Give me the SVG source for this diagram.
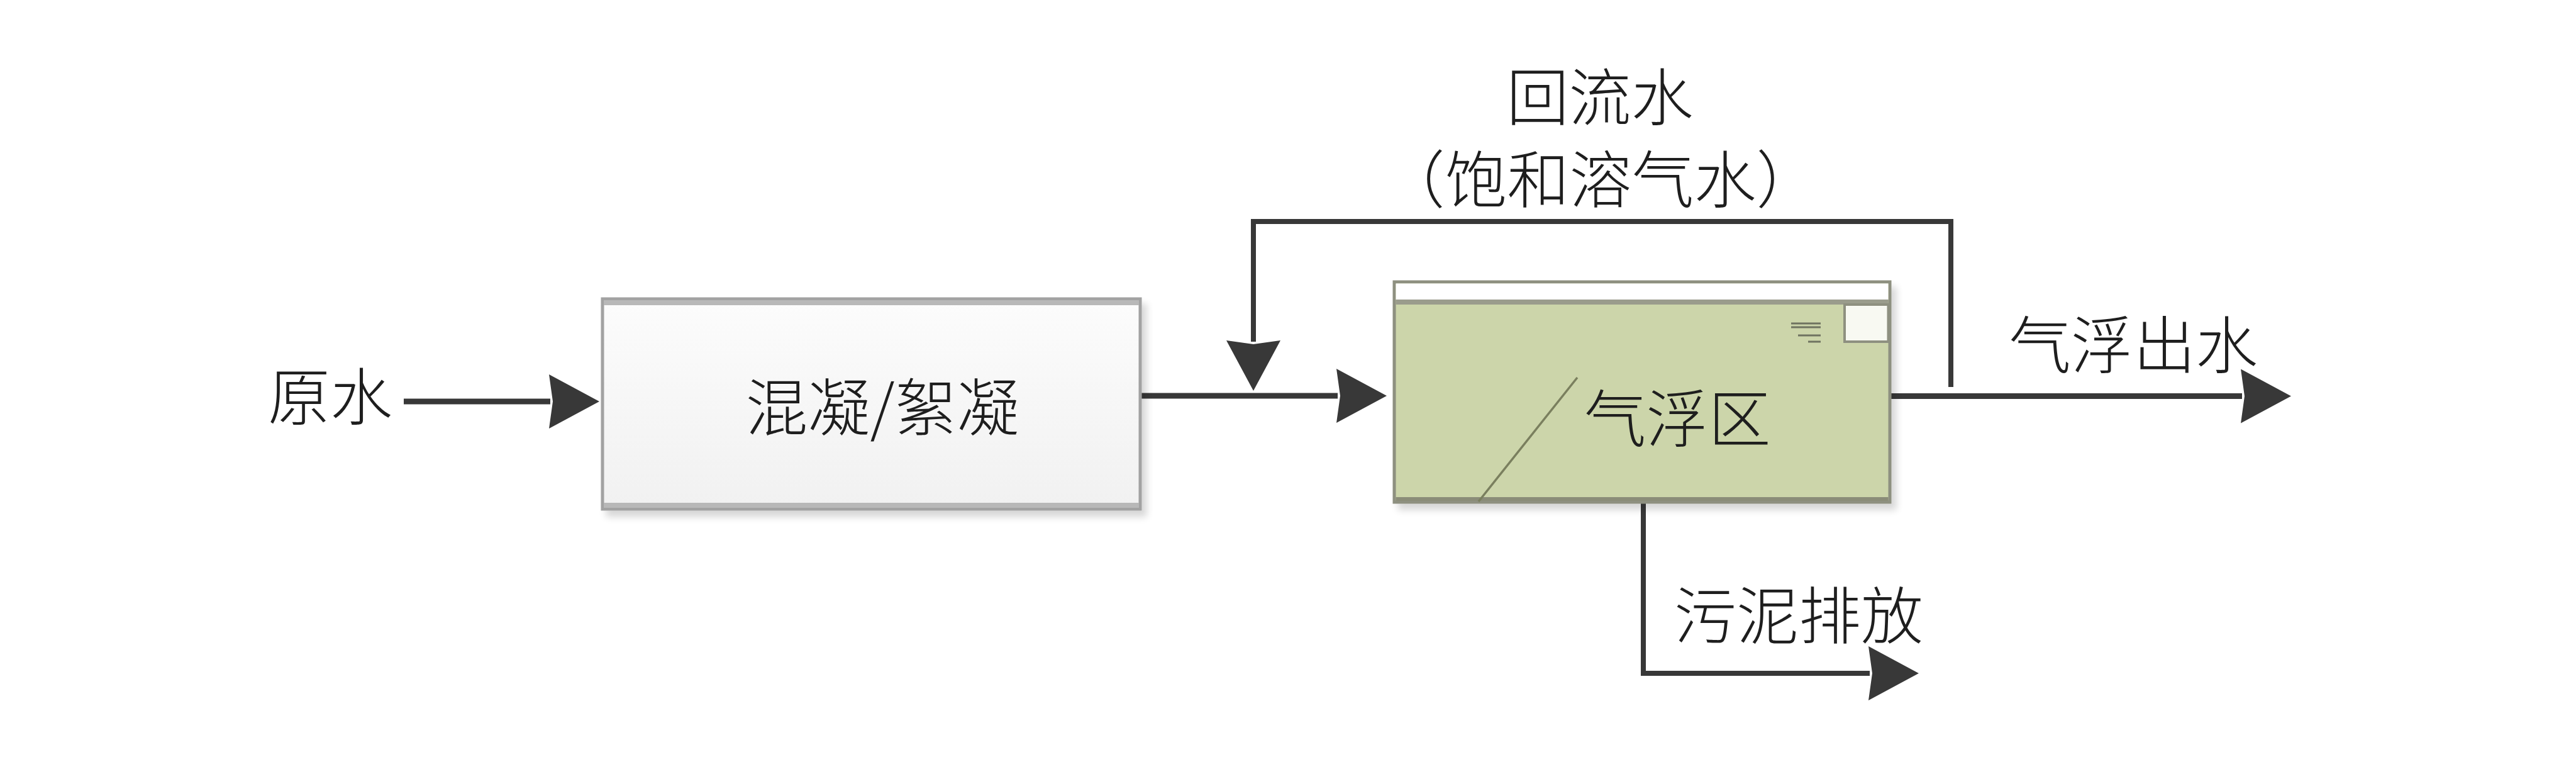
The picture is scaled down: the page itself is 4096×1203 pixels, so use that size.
<svg xmlns="http://www.w3.org/2000/svg" width="4096" height="1203" viewBox="0 0 4096 1203">
<style>
.txt{font-family:"Noto Sans CJK SC","Liberation Sans",sans-serif;font-size:99px;font-weight:300;fill:#1e1e1e;text-anchor:middle}
.ln{fill:none;stroke:#383838;stroke-width:9;stroke-linejoin:miter}
.thin{stroke-width:8}
</style>
<defs>
<marker id="ah" markerUnits="userSpaceOnUse" markerWidth="82" markerHeight="86" refX="2" refY="43" orient="auto" viewBox="0 0 82 86">
<path d="M0,0 L80,43 L0,86 L6,43 Z" fill="#383838"/>
</marker>
<linearGradient id="g1" x1="0" y1="0" x2="0" y2="1">
<stop offset="0" stop-color="#fcfcfc"/>
<stop offset="1" stop-color="#f1f1f1"/>
</linearGradient>
<filter id="sh" x="-5%" y="-5%" width="115%" height="120%">
<feGaussianBlur in="SourceAlpha" stdDeviation="6"/>
<feOffset dx="8" dy="10"/>
<feComponentTransfer><feFuncA type="linear" slope="0.16"/></feComponentTransfer>
<feMerge><feMergeNode/><feMergeNode in="SourceGraphic"/></feMerge>
</filter>
</defs>
<rect width="4096" height="1203" fill="#ffffff"/>

<g id="connectors">
<path class="ln" d="M642,638 H875" marker-end="url(#ah)"/>
<path class="ln" d="M1813,629 H2127" marker-end="url(#ah)"/>
<path class="ln" d="M3005,629.5 H3565" marker-end="url(#ah)"/>
<path class="ln thin" d="M3102,615 V352 H1993 V543" marker-end="url(#ah)"/>
<path class="ln thin" d="M2613,793 V1070 H2973" marker-end="url(#ah)"/>
</g>

<g id="node-raw">
<text class="txt" x="525" y="667">原水</text>
</g>

<g id="node-mix">
<rect x="958" y="475" width="855" height="334" fill="url(#g1)" stroke="#a2a2a2" stroke-width="5" filter="url(#sh)"/>
<rect x="960" y="477" width="851" height="8" fill="#b8b8b8"/>
<rect x="960" y="799" width="851" height="8" fill="#b8b8b8"/>
<text class="txt" x="1403" y="684">混凝/絮凝</text>
</g>

<g id="node-float">
<rect x="2217" y="448" width="788" height="350" fill="#ccd5aa" stroke="#8e9080" stroke-width="5" filter="url(#sh)"/>
<rect x="2219.5" y="450.5" width="783" height="26" fill="#ffffff"/>
<rect x="2219.5" y="476" width="783" height="8" fill="#9a9c8c"/>
<rect x="2933" y="484" width="69.5" height="59" fill="#f8f9f2" stroke="#8e9080" stroke-width="4"/>
<rect x="2219.5" y="790" width="783" height="6" fill="#8a8c78"/>
<g stroke="#6f7360" stroke-width="3">
<line x1="2848" y1="514" x2="2895" y2="514"/>
<line x1="2848" y1="520" x2="2895" y2="520"/>
<line x1="2859" y1="533" x2="2895" y2="533"/>
<line x1="2875" y1="543" x2="2895" y2="543"/>
</g>
<line x1="2508" y1="600" x2="2351" y2="797" stroke="#7a7f5e" stroke-width="3.5"/>
<text class="txt" x="2667" y="702">气浮区</text>
</g>

<g id="label-out">
<text class="txt" x="3392" y="585">气浮出水</text>
</g>
<g id="label-sludge">
<text class="txt" x="2860" y="1015">污泥排放</text>
</g>
<g id="label-recycle">
<text class="txt" x="2544" y="191">回流水</text>
<text class="txt" x="2545" y="322">（饱和溶气水）</text>
</g>
</svg>
